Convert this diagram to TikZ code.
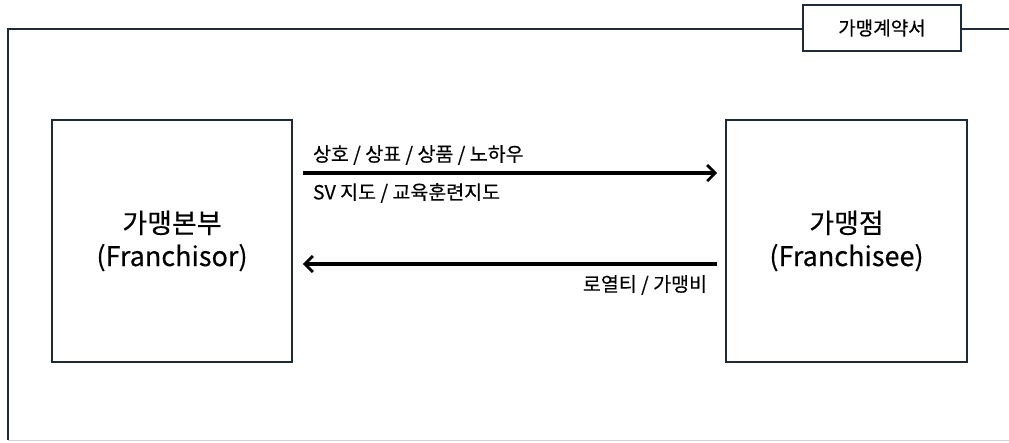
\documentclass[tikz,border=0pt]{standalone}
\usepackage{fontspec}
\setmainfont{Noto Sans CJK KR}[FakeBold=0.3]
\usetikzlibrary{arrows.meta}
\definecolor{ink}{HTML}{1C2B36}
\tikzset{
  frameline/.style={draw=ink, line width=1.6pt},
  entity/.style={draw=ink, line width=1.6pt, align=center, font=\fontsize{27}{33}\selectfont, inner sep=0pt},
  flow/.style={line width=3.2pt, black, -{Straight Barb[length=8pt,width=16pt,line width=2.8pt]}},
  lbl/.style={font=\fontsize{19.5}{22}\selectfont, inner sep=0pt},
}
\begin{document}
\begin{tikzpicture}[x=1pt,y=-1pt]
\useasboundingbox (0,0) rectangle (1009,442);
\fill[white] (0,0) rectangle (1009,442);
\draw[frameline] (1015,29) -- (8,29) -- (8,440);
\draw[gray!35, line width=1.2pt] (8,440.5) -- (1015,440.5);
\node[frameline, fill=white, minimum width=158pt, minimum height=46pt, font=\fontsize{19}{22}\selectfont] (contract) at (882,28) {가맹계약서};
\node[entity, minimum width=240pt, minimum height=242pt] (hq) at (172,241) {가맹본부\\(Franchisor)};
\node[entity, minimum width=241pt, minimum height=242pt] (store) at (846.5,241) {가맹점\\(Franchisee)};
\coordinate (a1s) at ([xshift=10pt,yshift=68pt]hq.east);
\coordinate (a1e) at ([xshift=-8pt,yshift=68pt]store.west);
\coordinate (a2s) at ([xshift=-8pt,yshift=-23pt]store.west);
\coordinate (a2e) at ([xshift=10pt,yshift=-23pt]hq.east);
\draw[flow] (a1s) -- (a1e);
\draw[flow] (a2s) -- (a2e);
\node[lbl, anchor=west] (t1) at ([xshift=10pt,yshift=18pt]a1s) {상호 / 상표 / 상품 / 노하우};
\node[lbl, anchor=west] (t2) at ([xshift=10pt,yshift=-20pt]a1s) {SV 지도 / 교육훈련지도};
\node[lbl, anchor=east] (t3) at ([xshift=-10pt,yshift=-21pt]a2s) {로열티 / 가맹비};
\end{tikzpicture}
\end{document}
